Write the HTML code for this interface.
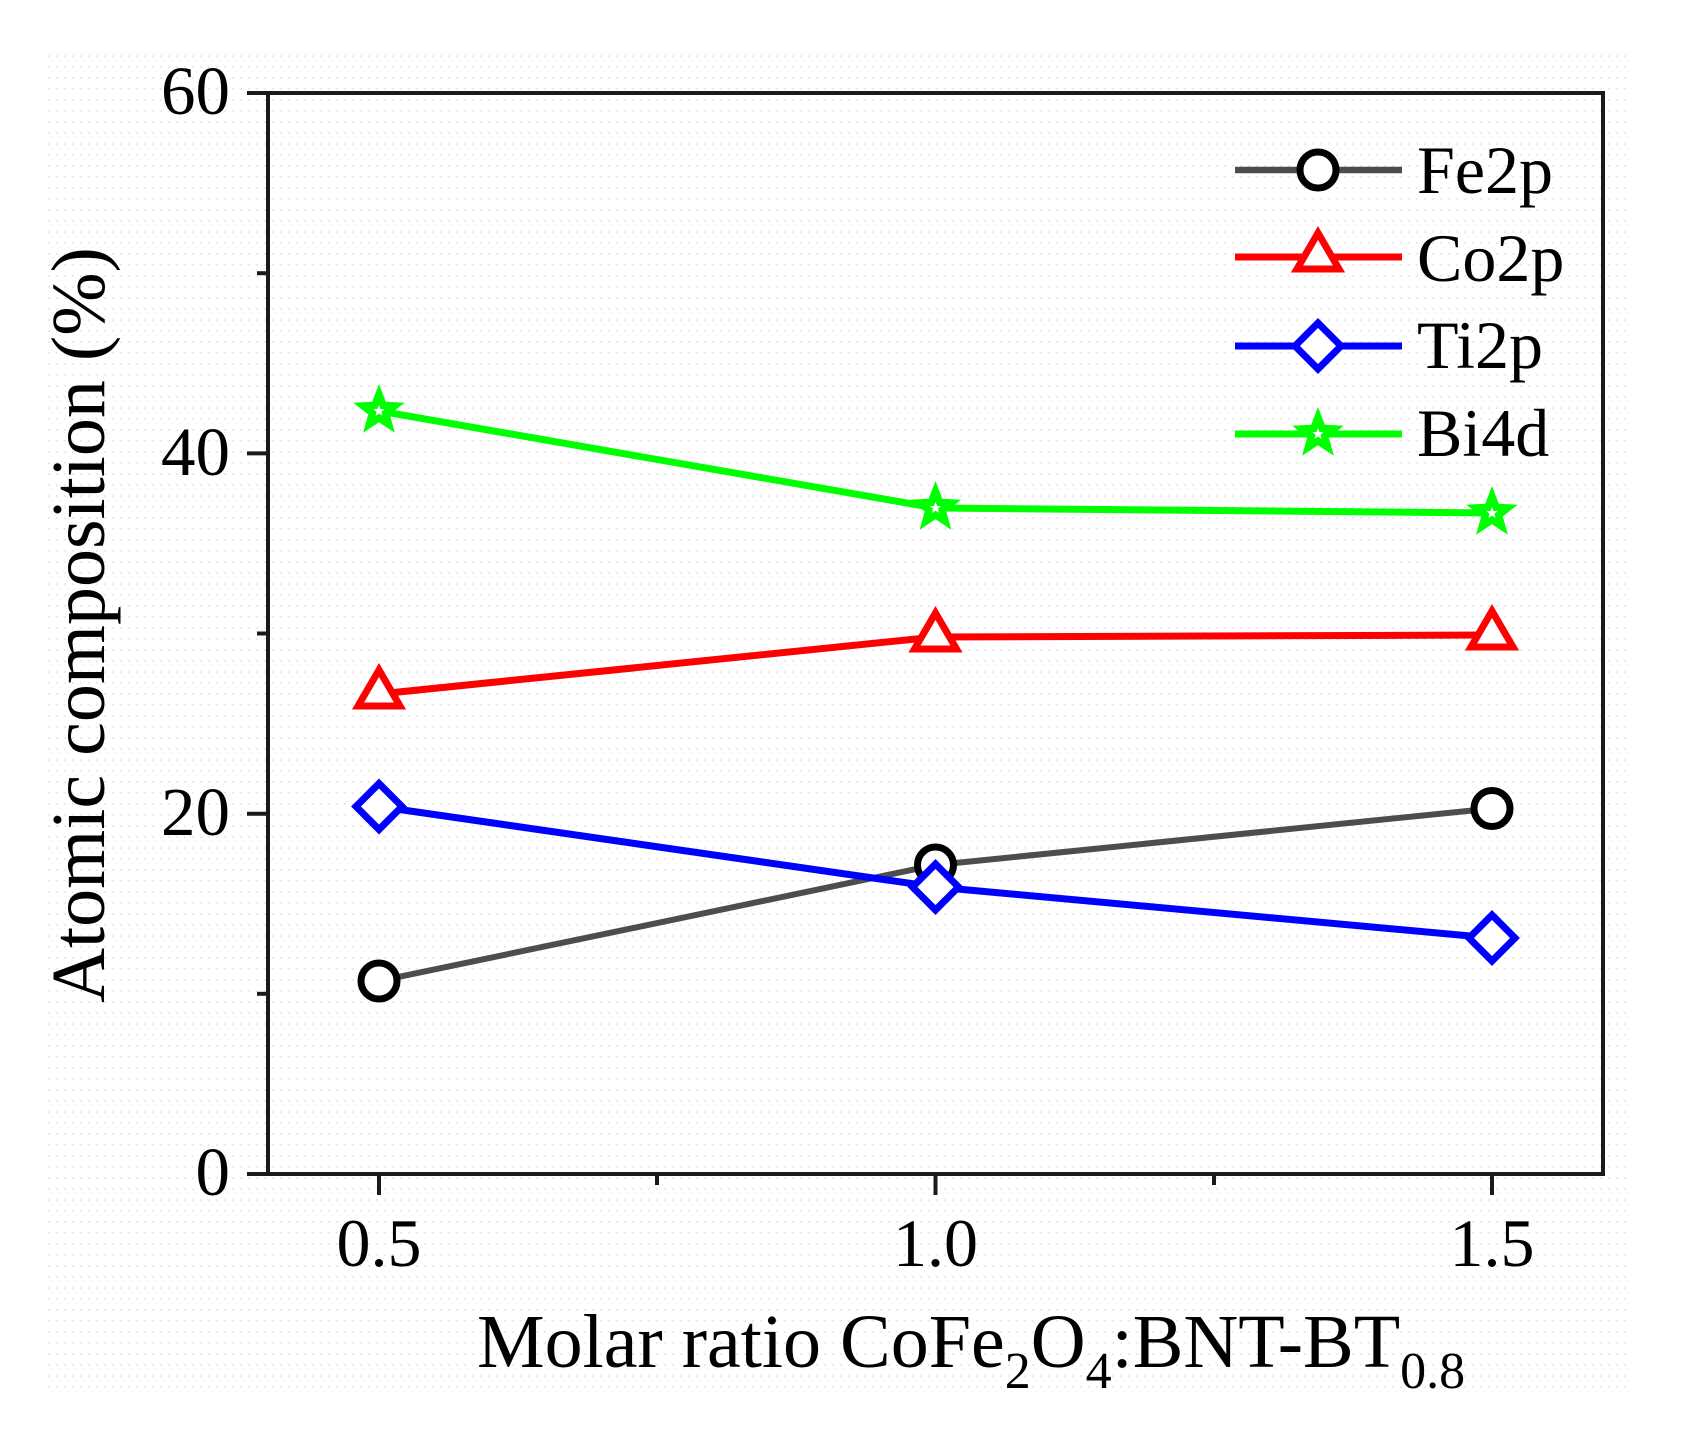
<!DOCTYPE html>
<html>
<head>
<meta charset="utf-8">
<style>
  html, body { margin: 0; padding: 0; background: #ffffff; }
  body { width: 1685px; height: 1452px; overflow: hidden; }
  svg { display: block; }
  text { font-family: "Liberation Serif", "Times New Roman", serif; fill: #000; }
</style>
</head>
<body>
<svg width="1685" height="1452" viewBox="0 0 1685 1452" xmlns="http://www.w3.org/2000/svg">
  <defs>
    <pattern id="dots" x="0" y="0" width="8" height="11" patternUnits="userSpaceOnUse">
      <rect x="0" y="0" width="2" height="2" fill="#ececec"/>
      <rect x="4" y="5" width="1" height="1" fill="#f3eef3"/>
    </pattern>
    <g id="star">
      <polygon fill="#00ff00" points="0,-27 6.8,-9.2 25.7,-8.3 10.8,3.5 15.9,21.8 0,11.3 -15.9,21.8 -10.8,3.5 -25.7,-8.3 -6.8,-9.2"/>
      <polygon fill="#fff" points="0,-6 1.6,-2 5.7,-1.9 2.5,0.8 3.5,4.9 0,2.6 -3.5,4.9 -2.5,0.8 -5.7,-1.9 -1.6,-2"/>
    </g>
  </defs>
  <rect x="0" y="0" width="1685" height="1452" fill="#ffffff"/>
  <rect x="42" y="53" width="1590" height="1340" fill="url(#dots)"/>

  <!-- Frame -->
  <rect x="268" y="93" width="1335" height="1081" fill="none" stroke="#1a1a1a" stroke-width="4"/>

  <g stroke="#1a1a1a" stroke-width="4">
    <line x1="247" y1="93" x2="268" y2="93"/>
    <line x1="247" y1="453.4" x2="268" y2="453.4"/>
    <line x1="247" y1="813.7" x2="268" y2="813.7"/>
    <line x1="247" y1="1174" x2="268" y2="1174"/>
    <line x1="257" y1="273.2" x2="268" y2="273.2"/>
    <line x1="257" y1="633.5" x2="268" y2="633.5"/>
    <line x1="257" y1="993.8" x2="268" y2="993.8"/>
    <line x1="379" y1="1174" x2="379" y2="1195"/>
    <line x1="935.5" y1="1174" x2="935.5" y2="1195"/>
    <line x1="1492" y1="1174" x2="1492" y2="1195"/>
    <line x1="657" y1="1174" x2="657" y2="1185"/>
    <line x1="1214" y1="1174" x2="1214" y2="1185"/>
  </g>

  <g font-size="69" text-anchor="end">
    <text x="230" y="114">60</text>
    <text x="230" y="475">40</text>
    <text x="230" y="835">20</text>
    <text x="230" y="1195">0</text>
  </g>

  <g font-size="68" text-anchor="middle">
    <text x="379" y="1266">0.5</text>
    <text x="935.5" y="1266">1.0</text>
    <text x="1492" y="1266">1.5</text>
  </g>

  <text font-size="76" text-anchor="middle" transform="translate(104,625) rotate(-90)">Atomic composition (%)</text>
  <text x="477" y="1367" font-size="76">Molar ratio CoFe<tspan font-size="52" dy="21">2</tspan><tspan dy="-21">O</tspan><tspan font-size="52" dy="21">4</tspan><tspan dy="-21">:BNT-BT</tspan><tspan font-size="52" dy="21">0.8</tspan></text>

  <!-- Fe2p -->
  <polyline points="379,981 935.5,865 1492,808.5" fill="none" stroke="#4d4d4d" stroke-width="6"/>
  <g fill="#fff" stroke="#000" stroke-width="7">
    <circle cx="379" cy="981" r="18"/>
    <circle cx="935.5" cy="865" r="18"/>
    <circle cx="1492" cy="808.5" r="18"/>
  </g>

  <!-- Co2p -->
  <polyline points="379,694 935.5,637 1492,635" fill="none" stroke="#ff0000" stroke-width="7"/>
  <g fill="#fff" stroke="#ff0000" stroke-width="7" stroke-linejoin="miter">
    <polygon points="379,670 400,706 358,706"/>
    <polygon points="935.5,613 956.5,649 914.5,649"/>
    <polygon points="1492,611 1513,647 1471,647"/>
  </g>

  <!-- Ti2p -->
  <polyline points="379,806.5 935.5,887 1492,938" fill="none" stroke="#0000ff" stroke-width="7"/>
  <g fill="#fff" stroke="#0000ff" stroke-width="7" stroke-linejoin="miter">
    <polygon points="379,783.5 402,806.5 379,829.5 356,806.5"/>
    <polygon points="935.5,864 958.5,887 935.5,910 912.5,887"/>
    <polygon points="1492,915 1515,938 1492,961 1469,938"/>
  </g>

  <!-- Bi4d -->
  <polyline points="379,411 935.5,508 1492,513" fill="none" stroke="#00ff00" stroke-width="7"/>
  <use href="#star" transform="translate(379,411)"/>
  <use href="#star" transform="translate(935.5,508)"/>
  <use href="#star" transform="translate(1492,513)"/>

  <!-- Legend -->
  <line x1="1235" y1="170" x2="1402" y2="170" stroke="#4d4d4d" stroke-width="6.5"/>
  <circle cx="1318" cy="170" r="18" fill="#fff" stroke="#000" stroke-width="7"/>
  <line x1="1235" y1="257" x2="1402" y2="257" stroke="#ff0000" stroke-width="7"/>
  <polygon points="1318,233 1339,269 1297,269" fill="#fff" stroke="#ff0000" stroke-width="7"/>
  <line x1="1235" y1="346" x2="1402" y2="346" stroke="#0000ff" stroke-width="7"/>
  <polygon points="1318,323 1341,346 1318,369 1295,346" fill="#fff" stroke="#0000ff" stroke-width="7"/>
  <line x1="1235" y1="434" x2="1402" y2="434" stroke="#00ff00" stroke-width="7"/>
  <use href="#star" transform="translate(1318,434)"/>
  <g font-size="68">
    <text x="1417" y="193">Fe2p</text>
    <text x="1417" y="281">Co2p</text>
    <text x="1417" y="368">Ti2p</text>
    <text x="1417" y="456">Bi4d</text>
  </g>
</svg>
</body>
</html>
